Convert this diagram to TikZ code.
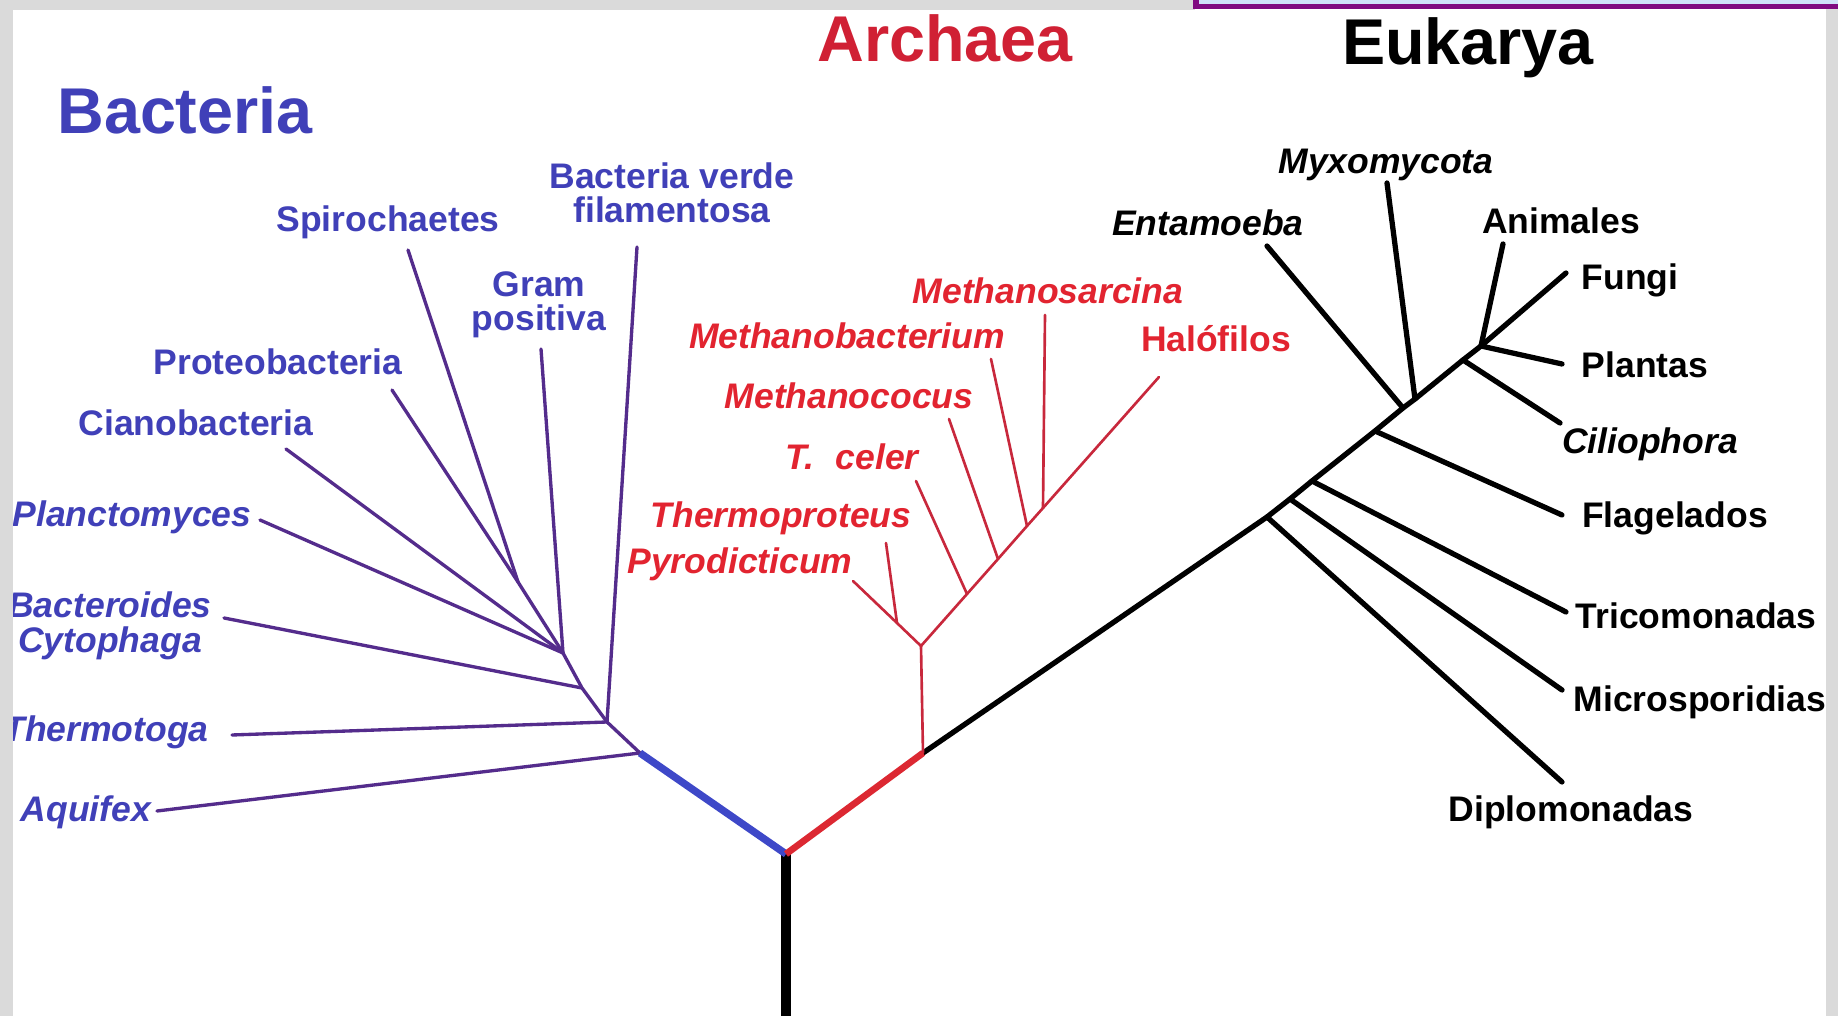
\documentclass[tikz,border=0pt]{standalone}
\usepackage{fontspec}
\setmainfont{Liberation Sans}
\usepackage{tikz}
\usetikzlibrary{positioning}

\definecolor{bactblue}{RGB}{64,64,184}
\definecolor{bactline}{RGB}{84,44,140}
\definecolor{bactstem}{RGB}{62,72,200}
\definecolor{archred}{RGB}{226,36,48}
\definecolor{archtitle}{RGB}{208,32,52}
\definecolor{archline}{RGB}{200,40,60}
\definecolor{archstem}{RGB}{220,40,50}
\definecolor{framegray}{RGB}{218,218,218}
\definecolor{tabfill}{RGB}{208,224,248}
\definecolor{tabline}{RGB}{128,10,128}

\newcommand\taxonfont{\fontsize{10.1}{9.8}\selectfont\bfseries}
\newcommand\titlefont{\fontsize{18.4}{22}\selectfont\bfseries}

\begin{document}
\begin{tikzpicture}[
  x=0.01cm, y=-0.01cm,
  taxon/.style={
    inner sep=0pt,
    font=\taxonfont,
    align=center
  },
  bact/.style={taxon, text=bactblue},
  bactit/.style={bact, font=\taxonfont\itshape},
  arch/.style={taxon, text=archred, font=\taxonfont\itshape},
  archup/.style={taxon, text=archred},
  euk/.style={taxon, text=black},
  eukit/.style={euk, font=\taxonfont\itshape},
  domaintitle/.style={
    inner sep=0pt,
    anchor=base,
    font=\titlefont
  },
  bline/.style={draw=bactline, line width=0.95pt, line cap=round},
  bstem/.style={draw=bactstem, line width=2.1pt},
  aline/.style={draw=archline, line width=0.75pt, line cap=round},
  astem/.style={draw=archstem, line width=1.9pt},
  eline/.style={draw=black, line width=1.5pt, line cap=round},
  rootline/.style={draw=black, line width=2.6pt}
]

\useasboundingbox (0,0) rectangle (1838,1016);
\fill[white] (0,0) rectangle (1838,1016);

% Domain titles
\node[domaintitle, text=bactblue] (bacteria) at (185,134) {Bacteria};
\node[domaintitle, text=archtitle] (archaea) at (945,62) {Archaea};
\node[domaintitle] (eukarya) at (1468,65) {Eukarya};

% Junctions
\coordinate (base) at (786,1016);
\coordinate (root) at (786,854);
\coordinate (jaqu) at (640,753);
\coordinate (jthe) at (607,722);
\coordinate (jbac) at (582,688);
\coordinate (jfan) at (563,653);
\coordinate (jspi) at (518,582);
\coordinate (jarc) at (923,753);
\coordinate (jar1) at (921,646);
\coordinate (jthp) at (897,623);
\coordinate (jcel) at (967,594);
\coordinate (jmcc) at (998,559);
\coordinate (jmba) at (1027,526);
\coordinate (jmsa) at (1043,508);
\coordinate (jdip) at (1267,517);
\coordinate (jmic) at (1290,499);
\coordinate (jtri) at (1312,481);
\coordinate (jfla) at (1375,431);
\coordinate (jent) at (1403,408);
\coordinate (jmyx) at (1415,399);
\coordinate (jcil) at (1463,360);
\coordinate (jtop) at (1481,346);

% Branch tips
\coordinate (taqu) at (157,811);
\coordinate (tthe) at (232,735);
\coordinate (tbac) at (224,618);
\coordinate (tpla) at (260,520);
\coordinate (tcia) at (286,449);
\coordinate (tpro) at (392,390);
\coordinate (tspi) at (408,250);
\coordinate (tgra) at (541,349);
\coordinate (tver) at (637,247);
\coordinate (tpyr) at (853,581);
\coordinate (tthp) at (886,543);
\coordinate (tcel) at (916,481);
\coordinate (tmcc) at (949,419);
\coordinate (tmba) at (991,359);
\coordinate (tmsa) at (1045,315);
\coordinate (thal) at (1159,377);
\coordinate (tent) at (1267,246);
\coordinate (tmyx) at (1387,183);
\coordinate (tani) at (1503,244);
\coordinate (tfun) at (1566,273);
\coordinate (tplt) at (1562,364);
\coordinate (tcil) at (1560,423);
\coordinate (tfla) at (1562,515);
\coordinate (ttri) at (1566,612);
\coordinate (tmic) at (1562,690);
\coordinate (tdip) at (1562,782);

% Bacteria labels
\node[bact] (spiro) at (388,222) {Spirochaetes};
\node[bact] (verde) at (672,193) {Bacteria verde\\filamentosa};
\node[bact] (gram) at (539,305) {Gram\\positiva};
\node[bact] (proteo) at (278,362) {Proteobacteria};
\node[bact] (ciano) at (196,423) {Cianobacteria};
\node[bactit] (planc) at (132,517) {Planctomyces};
\node[bactit] (bacter) at (110,626) {Bacteroides\\Cytophaga};
\node[bactit] (thermo) at (106,732) {Thermotoga};
\node[bactit] (aquif) at (86,812) {Aquifex};

% Archaea labels
\node[arch] (msarc) at (1048,291) {Methanosarcina};
\node[arch] (mbact) at (847,336) {Methanobacterium};
\node[archup] (halo) at (1216,339) {Halófilos};
\node[arch] (mcocc) at (849,396) {Methanococus};
\node[arch] (tceler) at (852,457) {T.\hspace{0.6em}celer};
\node[arch] (thprot) at (781,518) {Thermoproteus};
\node[arch] (pyro) at (740,564) {Pyrodicticum};

% Eukarya labels
\node[eukit] (myxo) at (1386,165) {Myxomycota};
\node[eukit] (entam) at (1208,223) {Entamoeba};
\node[euk] (anim) at (1561,221) {Animales};
\node[euk] (fungi) at (1630,280) {Fungi};
\node[euk] (plant) at (1645,365) {Plantas};
\node[eukit] (cilio) at (1650,444) {Ciliophora};
\node[euk] (flag) at (1675,518) {Flagelados};
\node[euk] (trico) at (1696,616) {Tricomonadas};
\node[euk] (micro) at (1700,702) {Microsporidias};
\node[euk] (diplo) at (1571,812) {Diplomonadas};

% Eukarya branches
\draw[eline] (jarc) -- (jdip) -- (jmic) -- (jtri) -- (jfla) -- (jent) -- (jmyx) -- (jcil) -- (jtop);
\draw[eline] (jdip) -- (tdip);
\draw[eline] (jmic) -- (tmic);
\draw[eline] (jtri) -- (ttri);
\draw[eline] (jfla) -- (tfla);
\draw[eline] (jent) -- (tent);
\draw[eline] (jmyx) -- (tmyx);
\draw[eline] (jcil) -- (tcil);
\draw[eline] (jtop) -- (tani);
\draw[eline] (jtop) -- (tfun);
\draw[eline] (jtop) -- (tplt);

% Archaea branches
\draw[aline] (jarc) -- (jar1);
\draw[aline] (jar1) -- (jthp) -- (tpyr);
\draw[aline] (jthp) -- (tthp);
\draw[aline] (jar1) -- (jcel) -- (jmcc) -- (jmba) -- (jmsa) -- (thal);
\draw[aline] (jcel) -- (tcel);
\draw[aline] (jmcc) -- (tmcc);
\draw[aline] (jmba) -- (tmba);
\draw[aline] (jmsa) -- (tmsa);

% Bacteria branches
\draw[bline] (jaqu) -- (jthe) -- (jbac) -- (jfan) -- (jspi) -- (tpro);
\draw[bline] (jaqu) -- (taqu);
\draw[bline] (jthe) -- (tthe);
\draw[bline] (jthe) -- (tver);
\draw[bline] (jbac) -- (tbac);
\draw[bline] (jfan) -- (tgra);
\draw[bline] (jfan) -- (tcia);
\draw[bline] (jfan) -- (tpla);
\draw[bline] (jspi) -- (tspi);

% Root and stems
\draw[rootline] (base) -- (root);
\draw[bstem] (root) -- (jaqu);
\draw[astem] (root) -- (jarc);

% Frame
\fill[framegray] (0,0) rectangle (13,1016);
\fill[framegray] (0,0) rectangle (1195,10);
\fill[framegray] (1826,9) rectangle (1838,1016);
\fill[tabfill] (1195,0) rectangle (1838,6);
\draw[tabline, line width=1.5pt] (1196,0) -- (1196,6.5) -- (1838,6.5);

\end{tikzpicture}
\end{document}
